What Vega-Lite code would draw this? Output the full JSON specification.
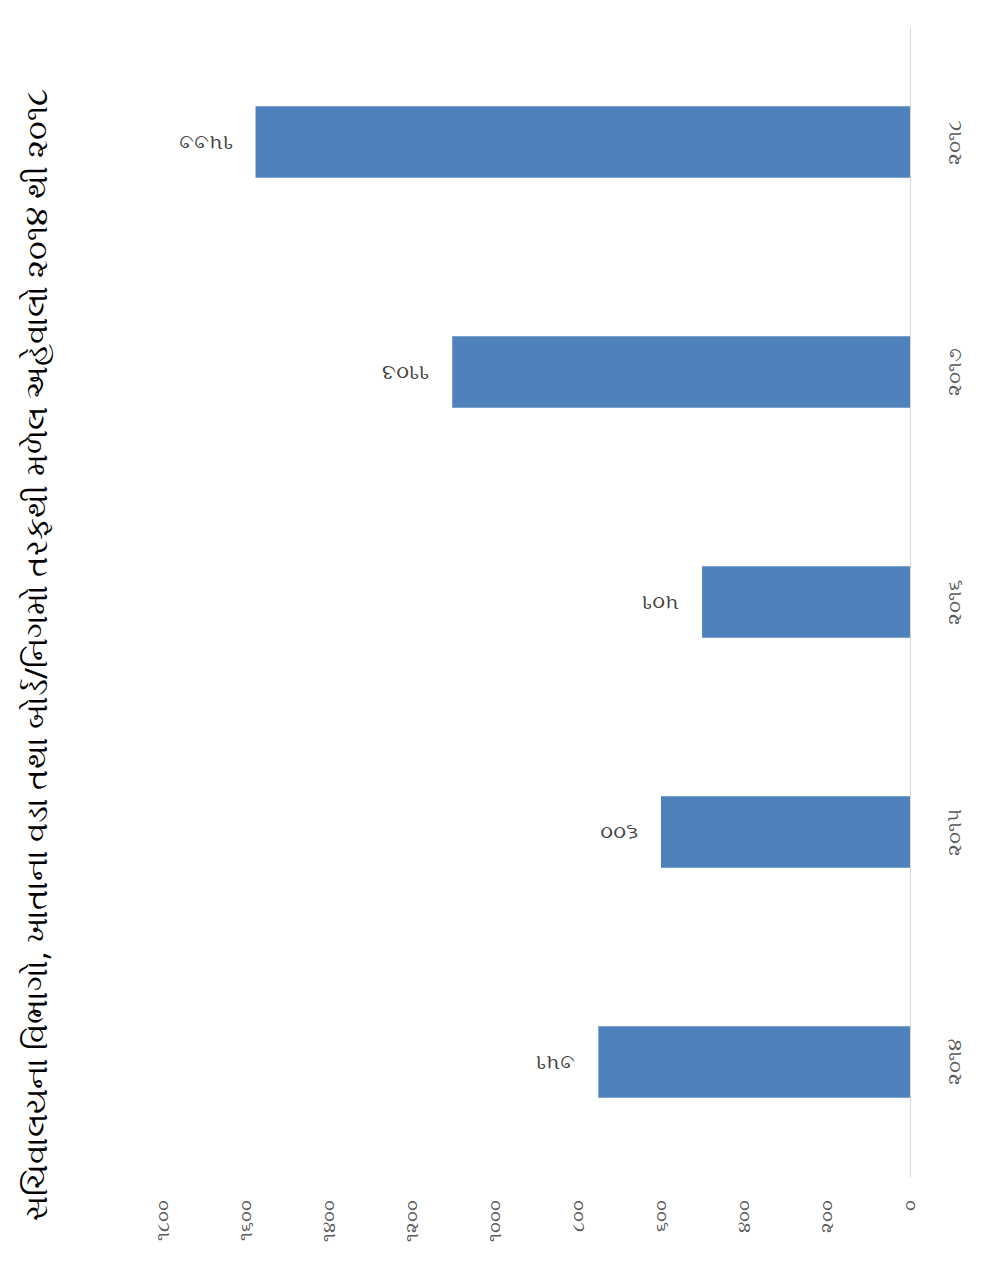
{
  "$schema": "https://vega.github.io/schema/vega-lite/v6.json",
  "width": 747,
  "height": 1150,
  "autosize": {"type": "none"},
  "padding": {"left": 163, "top": 27, "right": 95, "bottom": 96},
  "background": "white",
  "config": {"view": {"stroke": null}, "font": "Noto Sans, sans-serif"},
  "title": {
    "text": "સચિવાલયના વિભાગો, ખાતાના વડા તથા બોર્ડ/નિગમો તરફથી મળેલ અહેવાલો ૨૦૧૪ થી ૨૦૧૮",
    "orient": "left",
    "anchor": "middle",
    "fontSize": 31,
    "fontWeight": "normal",
    "color": "#000000",
    "offset": 100,
    "dx": -53
  },
  "data": {
    "values": [
      {"year": "૨૦૧૪", "value": 751, "label": "૭૫૧"},
      {"year": "૨૦૧૫", "value": 600, "label": "૬૦૦"},
      {"year": "૨૦૧૬", "value": 501, "label": "૫૦૧"},
      {"year": "૨૦૧૭", "value": 1103, "label": "૧૧૦૩"},
      {"year": "૨૦૧૮", "value": 1577, "label": "૧૫૭૭"}
    ]
  },
  "encoding": {
    "y": {
      "field": "year",
      "type": "ordinal",
      "sort": ["૨૦૧૮", "૨૦૧૭", "૨૦૧૬", "૨૦૧૫", "૨૦૧૪"],
      "scale": {"paddingInner": 0.69, "paddingOuter": 0.345},
      "axis": {
        "orient": "right",
        "title": null,
        "labelAngle": -90,
        "ticks": false,
        "domain": true,
        "domainColor": "#d9d9d9",
        "domainWidth": 1,
        "labelPadding": 34,
        "labelFontSize": 20,
        "labelColor": "#595959"
      }
    },
    "x": {
      "field": "value",
      "type": "quantitative",
      "scale": {"domain": [0, 1800], "reverse": true, "nice": false},
      "axis": {
        "orient": "bottom",
        "title": null,
        "values": [0, 200, 400, 600, 800, 1000, 1200, 1400, 1600, 1800],
        "labelExpr": "replace(replace(replace(replace(replace(replace(replace(replace(replace(replace(toString(datum.value), regexp('0','g'), '૦'), regexp('1','g'), '૧'), regexp('2','g'), '૨'), regexp('3','g'), '૩'), regexp('4','g'), '૪'), regexp('5','g'), '૫'), regexp('6','g'), '૬'), regexp('7','g'), '૭'), regexp('8','g'), '૮'), regexp('9','g'), '૯')",
        "labelAngle": -90,
        "grid": false,
        "domain": false,
        "ticks": false,
        "labelPadding": 22,
        "labelFontSize": 18,
        "labelColor": "#595959"
      }
    }
  },
  "layer": [
    {"mark": {"type": "bar", "color": "#4f81bd"}},
    {
      "mark": {"type": "text", "angle": 180, "align": "left", "baseline": "middle", "dx": 23, "fontSize": 21, "color": "#404040"},
      "encoding": {"text": {"field": "label"}}
    }
  ]
}
